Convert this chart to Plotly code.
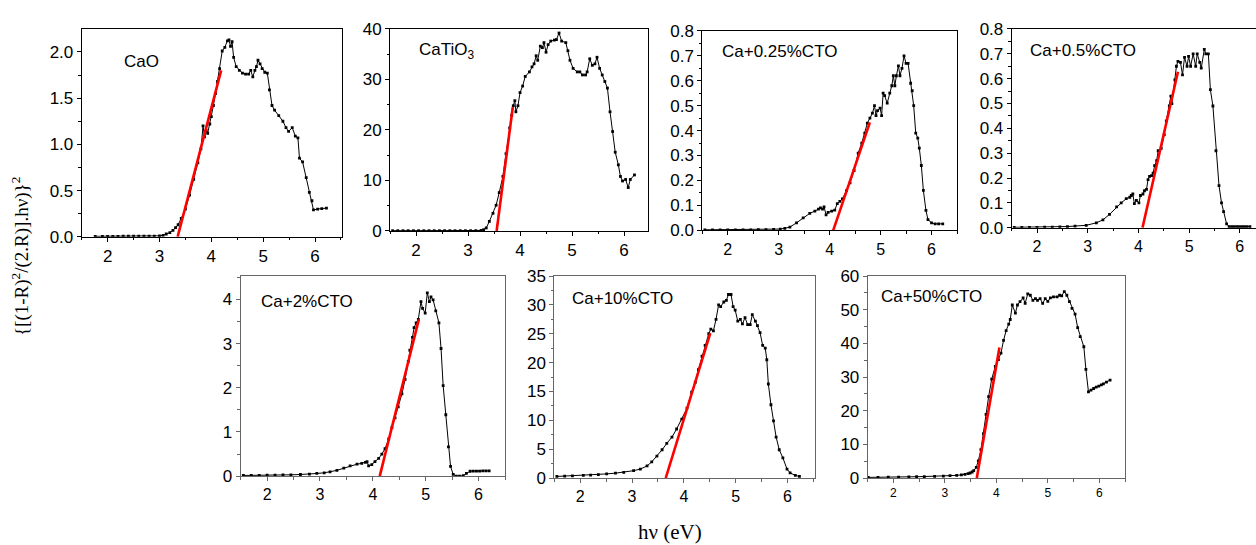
import plotly.graph_objects as go

W, H = 1256, 545

# ---------------- data ----------------
labels = ["CaO", "CaTiO<sub>3</sub>", "Ca+0.25%CTO", "Ca+0.5%CTO", "Ca+2%CTO", "Ca+10%CTO", "Ca+50%CTO"]

cao_e = [1.76, 1.9, 2.0, 2.1, 2.2, 2.3, 2.4, 2.5, 2.6, 2.7, 2.8, 2.9, 3.0, 3.07, 3.13, 3.2, 3.26, 3.31, 3.36, 3.42,
         3.5, 3.58, 3.66, 3.74, 3.80, 3.84, 3.87, 3.9, 3.93, 3.97, 4.0, 4.04, 4.08, 4.12, 4.16, 4.21, 4.26, 4.31,
         4.34, 4.37, 4.40, 4.43, 4.48, 4.54, 4.60, 4.66, 4.72, 4.76, 4.80, 4.84, 4.87, 4.90, 4.94, 4.98, 5.03, 5.08,
         5.12, 5.17, 5.22, 5.30, 5.38, 5.44, 5.49, 5.56, 5.62, 5.67, 5.70, 5.76, 5.83, 5.89, 5.94, 5.97, 6.05, 6.13, 6.22]
cao_v = [0.005, 0.005, 0.005, 0.005, 0.005, 0.006, 0.006, 0.006, 0.007, 0.007, 0.008, 0.008, 0.01, 0.015, 0.03, 0.045,
         0.07, 0.10, 0.13, 0.2, 0.3, 0.45, 0.62, 0.8, 0.95, 1.2, 1.08, 1.15, 1.12, 1.22, 1.3, 1.42, 1.55, 1.68, 1.82,
         2.01, 2.05, 2.12, 2.13, 2.06, 2.11, 1.94, 1.84, 1.80, 1.77, 1.76, 1.76, 1.80, 1.73, 1.80, 1.84, 1.91, 1.87,
         1.82, 1.78, 1.77, 1.59, 1.42, 1.37, 1.31, 1.25, 1.18, 1.14, 1.18, 1.09, 1.07, 0.85, 0.81, 0.64, 0.48, 0.39,
         0.29, 0.30, 0.305, 0.31]
cao_fit_e = [3.35, 4.19]
cao_fit_v = [0.0, 1.80]

cto_e = [1.55, 1.65, 1.75, 1.85, 1.95, 2.05, 2.15, 2.25, 2.35, 2.45, 2.55, 2.65, 2.75, 2.85, 2.95, 3.05, 3.15, 3.25,
         3.30, 3.35, 3.41, 3.48, 3.54, 3.60, 3.67, 3.73, 3.80, 3.84, 3.87, 3.90, 3.92, 3.96, 4.00, 4.05, 4.10, 4.18,
         4.23, 4.27, 4.31, 4.34, 4.39, 4.43, 4.46, 4.50, 4.54, 4.59, 4.66, 4.70, 4.75, 4.80, 4.88, 4.92, 4.96, 5.02,
         5.10, 5.15, 5.20, 5.26, 5.29, 5.34, 5.39, 5.44, 5.48, 5.53, 5.58, 5.63, 5.68, 5.73, 5.78, 5.83, 5.89, 5.93,
         5.97, 6.03, 6.08, 6.12, 6.20]
cto_v = [0.05, 0.05, 0.05, 0.05, 0.05, 0.05, 0.05, 0.05, 0.05, 0.05, 0.05, 0.05, 0.05, 0.05, 0.05, 0.05, 0.06, 0.1,
         0.25, 0.6, 1.9, 3.5, 5.1, 7.6, 10.8, 15.3, 20.4, 22.9, 24.8, 25.8, 23.6, 24.8, 27.4, 28.7, 30.6, 31.5, 32.5,
         33.1, 34.7, 33.8, 36.6, 36.3, 37.3, 35.4, 36.9, 37.6, 37.8, 37.9, 39.2, 37.6, 37.3, 35.7, 33.8, 32.2, 31.5,
         31.5, 30.9, 30.9, 31.5, 34.1, 32.8, 33.1, 34.4, 32.2, 30.9, 29.6, 28.3, 23.6, 19.7, 15.6, 13.1, 10.8, 9.9,
         10.2, 8.6, 10.2, 11.1]
cto_fit_e = [3.55, 3.86]
cto_fit_v = [0.0, 24.5]

c025_e = [1.55, 1.7, 1.85, 2.0, 2.15, 2.3, 2.45, 2.6, 2.75, 2.9, 3.03, 3.12, 3.22, 3.35, 3.48, 3.61, 3.71, 3.78, 3.82,
          3.86, 3.89, 3.93, 3.97, 4.04, 4.10, 4.15, 4.20, 4.25, 4.33, 4.40, 4.48, 4.56, 4.63, 4.69, 4.74, 4.79, 4.84,
          4.88, 4.91, 4.94, 4.99, 5.02, 5.05, 5.08, 5.13, 5.18, 5.22, 5.25, 5.28, 5.31, 5.35, 5.38, 5.42, 5.46, 5.50,
          5.54, 5.59, 5.62, 5.65, 5.69, 5.73, 5.76, 5.80, 5.84, 5.89, 5.93, 6.00, 6.07, 6.14, 6.22]
c025_v = [0.002, 0.002, 0.002, 0.002, 0.002, 0.002, 0.002, 0.003, 0.003, 0.004, 0.005, 0.008, 0.013, 0.03, 0.05, 0.068,
          0.077, 0.085, 0.09, 0.085, 0.094, 0.062, 0.072, 0.077, 0.081, 0.107, 0.116, 0.126, 0.159, 0.19, 0.24, 0.31,
          0.35, 0.39, 0.43, 0.45, 0.47, 0.50, 0.46, 0.48, 0.49, 0.46, 0.55, 0.54, 0.51, 0.55, 0.58, 0.62, 0.58, 0.62,
          0.66, 0.62, 0.65, 0.70, 0.67, 0.67, 0.59, 0.56, 0.50, 0.39, 0.37, 0.33, 0.26, 0.16, 0.08, 0.043, 0.03, 0.026,
          0.026, 0.026]
c025_fit_e = [4.07, 4.79]
c025_fit_v = [0.0, 0.433]

c05_e = [1.55, 1.7, 1.85, 2.0, 2.15, 2.3, 2.45, 2.6, 2.75, 2.97, 3.17, 3.30, 3.43, 3.57, 3.66, 3.76, 3.83, 3.86, 3.89,
         3.92, 3.96, 4.01, 4.04, 4.09, 4.12, 4.16, 4.19, 4.22, 4.26, 4.29, 4.32, 4.36, 4.39, 4.45, 4.51, 4.55, 4.61,
         4.64, 4.66, 4.72, 4.75, 4.78, 4.83, 4.87, 4.91, 4.96, 4.99, 5.03, 5.08, 5.13, 5.16, 5.21, 5.24, 5.30, 5.33,
         5.38, 5.42, 5.47, 5.53, 5.59, 5.64, 5.68, 5.74, 5.79, 5.84, 5.89, 5.94, 5.99, 6.04, 6.09, 6.14, 6.20]
c05_v = [0.002, 0.002, 0.002, 0.002, 0.003, 0.003, 0.004, 0.005, 0.007, 0.01, 0.02, 0.032, 0.054, 0.084, 0.10, 0.117,
         0.123, 0.13, 0.136, 0.097, 0.11, 0.10, 0.13, 0.136, 0.149, 0.155, 0.194, 0.207, 0.21, 0.22, 0.25, 0.27, 0.31,
         0.32, 0.375, 0.43, 0.49, 0.53, 0.50, 0.595, 0.65, 0.67, 0.666, 0.615, 0.686, 0.65, 0.69, 0.65, 0.70, 0.65,
         0.70, 0.666, 0.643, 0.718, 0.70, 0.70, 0.556, 0.49, 0.31, 0.17, 0.10, 0.065, 0.016, 0.005, 0.005, 0.005,
         0.005, 0.005, 0.005, 0.005, 0.005, 0.005]
c05_fit_e = [4.08, 4.78]
c05_fit_v = [0.0, 0.628]

c2_e = [1.55, 1.7, 1.85, 2.0, 2.15, 2.3, 2.45, 2.63, 2.8, 2.94, 3.08, 3.19, 3.32, 3.45, 3.57, 3.70, 3.79, 3.86, 3.89,
        3.92, 3.98, 4.04, 4.11, 4.17, 4.23, 4.30, 4.36, 4.42, 4.48, 4.55, 4.61, 4.67, 4.70, 4.75, 4.78, 4.82, 4.86,
        4.91, 4.94, 4.99, 5.03, 5.07, 5.10, 5.14, 5.19, 5.25, 5.29, 5.33, 5.38, 5.43, 5.47, 5.52, 5.58, 5.64, 5.71,
        5.77, 5.84, 5.90, 5.96, 6.02, 6.08, 6.14, 6.20]
c2_v = [0.015, 0.015, 0.018, 0.02, 0.022, 0.025, 0.03, 0.037, 0.045, 0.06, 0.075, 0.095, 0.13, 0.18, 0.23, 0.27, 0.29,
        0.31, 0.33, 0.23, 0.26, 0.33, 0.40, 0.50, 0.62, 0.84, 1.10, 1.32, 1.57, 1.86, 2.19, 2.60, 2.85, 3.14, 3.36,
        3.47, 3.55, 3.95, 3.80, 3.69, 4.15, 3.95, 4.06, 3.99, 3.74, 3.47, 2.89, 2.05, 1.39, 0.66, 0.22, 0.04, 0.0,
        0.0, 0.01, 0.06, 0.11, 0.115, 0.115, 0.115, 0.12, 0.12, 0.12]
c2_fit_e = [4.13, 4.87]
c2_fit_v = [0.0, 3.55]

c10_e = [1.55, 1.7, 1.85, 2.06, 2.2, 2.35, 2.51, 2.68, 2.84, 3.03, 3.16, 3.29, 3.38, 3.48, 3.58, 3.67, 3.77, 3.86, 3.96,
         4.06, 4.15, 4.22, 4.28, 4.35, 4.41, 4.48, 4.52, 4.57, 4.62, 4.67, 4.71, 4.77, 4.82, 4.86, 4.91, 4.95, 4.99,
         5.04, 5.09, 5.13, 5.18, 5.23, 5.28, 5.32, 5.38, 5.42, 5.47, 5.52, 5.57, 5.60, 5.63, 5.68, 5.73, 5.78, 5.84,
         5.91, 5.99, 6.05, 6.15, 6.23]
c10_v = [0.28, 0.33, 0.38, 0.45, 0.52, 0.6, 0.72, 0.85, 1.0, 1.28, 1.56, 2.1, 2.8, 3.8, 4.9, 6.0, 7.1, 8.5, 10.2, 12.1,
         14.9, 16.6, 18.8, 21.1, 23.0, 25.0, 25.8, 25.5, 27.5, 30.0, 29.7, 30.5, 30.8, 31.8, 31.8, 29.7, 29.1, 27.2,
         27.5, 26.7, 27.8, 26.6, 26.6, 28.3, 27.2, 26.4, 25.2, 23.0, 22.5, 20.5, 16.3, 12.7, 9.9, 7.1, 4.9, 3.5, 1.56,
         0.9, 0.45, 0.28]
c10_fit_e = [3.65, 4.51]
c10_fit_v = [0.0, 25.1]

c50_e = [1.51, 1.7, 1.9, 2.1, 2.3, 2.45, 2.6, 2.8, 2.97, 3.1, 3.23, 3.32, 3.39, 3.45, 3.49, 3.53, 3.56, 3.61, 3.65,
         3.70, 3.75, 3.80, 3.85, 3.91, 3.98, 4.04, 4.09, 4.14, 4.19, 4.24, 4.27, 4.31, 4.37, 4.41, 4.46, 4.52, 4.56,
         4.61, 4.66, 4.71, 4.76, 4.80, 4.85, 4.90, 4.95, 5.00, 5.05, 5.11, 5.18, 5.23, 5.27, 5.32, 5.37, 5.42, 5.47,
         5.53, 5.58, 5.63, 5.70, 5.74, 5.79, 5.84, 5.89, 5.94, 5.99, 6.04, 6.08, 6.14, 6.21]
c50_v = [0.2, 0.2, 0.25, 0.3, 0.35, 0.4, 0.45, 0.5, 0.6, 0.7, 0.8, 0.95, 1.1, 1.3, 1.5, 1.8, 2.2, 3.2, 5.1, 8.4, 13.2,
         18.9, 24.2, 29.4, 33.2, 35.2, 37.1, 40.9, 43.8, 45.7, 47.1, 51.4, 49.0, 51.4, 52.4, 53.5, 51.9, 54.7, 54.3,
         52.8, 53.3, 52.8, 53.3, 51.9, 53.3, 52.5, 53.5, 53.8, 53.8, 54.3, 54.1, 55.4, 54.3, 52.4, 50.4, 48.7, 44.7,
         42.0, 39.0, 32.3, 25.6, 26.1, 26.6, 27.0, 27.3, 27.7, 28.0, 28.5, 29.1]
c50_fit_e = [3.62, 4.06]
c50_fit_v = [0.0, 38.8]

x_tick_vals = [2, 3, 4, 5, 6]

# ---------------- layout geometry (pixels) ----------------
panels = [
    (cao_e, cao_v, cao_fit_e, cao_fit_v, (81.7, 342, 21, 236), [1.5, 6.52], [0, 2.245], 0.5, 0.25, ".1f", (122, 54), "black", 17, 17),
    (cto_e, cto_v, cto_fit_e, cto_fit_v, (390, 648, 20.7, 230), [1.5, 6.46], [0, 40], 10, 5, "d", (417, 44), "black", 17, 17),
    (c025_e, c025_v, c025_fit_e, c025_fit_v, (702.3, 957, 22.7, 229.3), [1.5, 6.5], [0, 0.8], 0.1, 0.05, ".1f", (720, 44), "black", 17, 16),
    (c05_e, c05_v, c05_fit_e, c05_fit_v, (1011.7, 1256, 20.7, 226.7), [1.5, 6.32], [0, 0.8], 0.1, 0.05, ".1f", (1028, 43), "black", 17, 16),
    (c2_e, c2_v, c2_fit_e, c2_fit_v, (240.7, 505, 276.7, 484), [1.5, 6.5], [0, 4.53], 1, 0.5, "d", (259, 303), "#666666", 17, 16),
    (c10_e, c10_v, c10_fit_e, c10_fit_v, (554.3, 815, 276.7, 486), [1.5, 6.53], [0, 35], 5, 2.5, "d", (570, 300), "#666666", 17, 16),
    (c50_e, c50_v, c50_fit_e, c50_fit_v, (867.7, 1125, 276.7, 486), [1.5, 6.5], [0, 60], 10, 5, "d", (879, 298), "#666666", 17, 12),
]

fig = go.Figure()
layout = dict(
    width=W, height=H, margin=dict(l=0, r=0, t=0, b=0),
    paper_bgcolor="white", plot_bgcolor="white", showlegend=False,
    font=dict(family="Liberation Sans, Arial", color="black"),
)
annotations = []

for i, (E, V, fE, fV, fr, xr, yr, ydt, ymin, fmt, lab, fcol, tsize, xtsize) in enumerate(panels):
    n = "" if i == 0 else str(i + 1)
    xa, ya = "x" + n, "y" + n
    x0, x1, y0, y1 = fr
    fig.add_trace(go.Scatter(x=E, y=V, xaxis=xa, yaxis=ya, mode="lines+markers",
                             line=dict(color="black", width=1),
                             marker=dict(symbol="square", size=2.8, color="black"),
                             cliponaxis=True, hoverinfo="skip"))
    fig.add_trace(go.Scatter(x=fE, y=fV, xaxis=xa, yaxis=ya, mode="lines",
                             line=dict(color="#ff0000", width=2.6), hoverinfo="skip"))
    mirror_y = i != 3
    layout["xaxis" + n] = dict(
        domain=[x0 / W, x1 / W], anchor=ya, range=xr, tickvals=x_tick_vals,
        ticks="outside", ticklen=4, tickwidth=1, tickcolor=fcol,
        showline=True, linecolor=fcol, linewidth=1, mirror=True,
        showgrid=False, zeroline=False, tickfont=dict(size=xtsize, family="Liberation Sans, Arial"),
        minor=dict(dtick=0.5, tick0=1.5, ticks="outside", ticklen=2.5, tickcolor=fcol, showgrid=False),
    )
    layout["yaxis" + n] = dict(
        domain=[1 - y1 / H, 1 - y0 / H], anchor=xa, range=yr, dtick=ydt, tick0=0,
        tickformat=fmt, ticks="outside", ticklen=4, tickwidth=1, tickcolor=fcol,
        showline=True, linecolor=fcol, linewidth=1, mirror=mirror_y,
        showgrid=False, zeroline=False, tickfont=dict(size=tsize, family="Liberation Sans, Arial"),
        minor=dict(dtick=ymin, tick0=0, ticks="outside", ticklen=2.5, tickcolor=fcol, showgrid=False),
    )
    annotations.append(dict(text=labels[i], xref="paper", yref="paper", x=lab[0] / W, y=1 - lab[1] / H,
                            xanchor="left", yanchor="middle", showarrow=False,
                            font=dict(size=17, family="Liberation Sans, Arial", color="black")))

annotations.append(dict(text="{[(1-R)<sup>2</sup>/(2.R)].hν)}<sup>2</sup>", xref="paper", yref="paper",
                        x=20 / W, y=1 - 257 / H, xanchor="center", yanchor="middle", textangle=-90,
                        showarrow=False, font=dict(size=19, family="Liberation Serif, Times New Roman", color="black")))
annotations.append(dict(text="hν (eV)", xref="paper", yref="paper", x=670 / W, y=1 - 542 / H,
                        xanchor="center", yanchor="middle", showarrow=False,
                        font=dict(size=21, family="Liberation Serif, Times New Roman", color="black")))

layout["annotations"] = annotations
fig.update_layout(**layout)
fig.write_html("out.html")
